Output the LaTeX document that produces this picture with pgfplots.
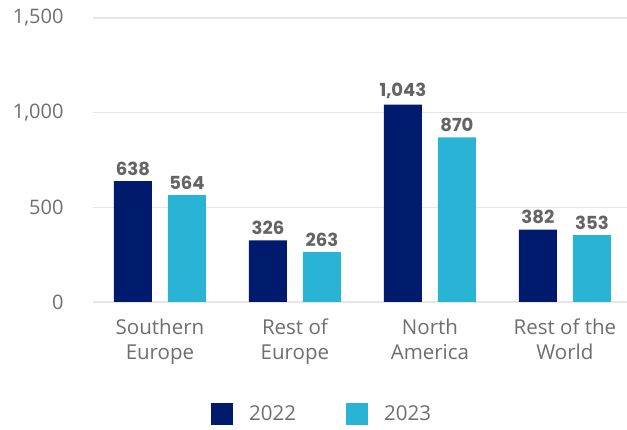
\documentclass[border=0pt]{standalone}
\usepackage{pgfplots}
\pgfplotsset{compat=1.18}
\usepackage{fontspec}
\setmainfont{Open Sans}
\newfontfamily\valfont{Poppins}
\definecolor{navy}{RGB}{0,26,110}
\definecolor{cyan23}{RGB}{41,180,214}
\definecolor{txt}{RGB}{110,110,110}
\definecolor{valtxt}{RGB}{100,100,100}
\definecolor{gridc}{RGB}{230,230,230}

\begin{document}
\begin{tikzpicture}
\useasboundingbox (0,0) rectangle (627pt,430pt);
\begin{axis}[
    at={(93pt,128pt)}, anchor=south west,
    scale only axis,
    width=534pt, height=284pt,
    xmin=-0.496, xmax=3.46,
    ymin=0, ymax=1500,
    ybar, bar width=38pt,
    axis line style={draw=none},
    ymajorgrids=true, xmajorgrids=false,
    major grid style={draw=gridc, line width=1.5pt},
    ytick={0,500,1000,1500},
    xtick={0,1,2,3},
    xticklabels={Southern\\Europe, Rest of\\Europe, North\\America, Rest of the\\World},
    xticklabel style={align=center, text=txt, font=\fontsize{20.5}{25}\selectfont, yshift=-9pt},
    yticklabel style={text=txt, font=\fontsize{20}{24}\selectfont, xshift=-26pt},
    /pgf/number format/assume math mode=true,
    /pgf/number format/1000 sep={,},
    tick style={draw=none},
    nodes near coords,
    nodes near coords style={font=\valfont\bfseries\fontsize{18}{20}\selectfont, text=valtxt, yshift=2pt,
        /pgf/number format/1000 sep={,}, /pgf/number format/assume math mode=true},
    legend columns=2,
    legend style={at={(0.221,-0.394)}, anchor=west, draw=none, inner sep=0pt,
        font=\fontsize{20.5}{24}\selectfont, text=txt,
        /tikz/every odd column/.append style={column sep=14pt},
        /tikz/every even column/.append style={column sep=48pt}},
    legend cell align=left,
    clip=false,
]
\addplot[fill=navy, draw=none, bar shift=-27pt,
    legend image code/.code={\fill[navy] (0pt,-11pt) rectangle (22pt,11pt);}]
    coordinates {(0,638) (1,326) (2,1043) (3,382)};
\addlegendentry{2022}
\addplot[fill=cyan23, draw=none, bar shift=27pt,
    legend image code/.code={\fill[cyan23] (0pt,-11pt) rectangle (22pt,11pt);}]
    coordinates {(0,564) (1,263) (2,870) (3,353)};
\addlegendentry{2023}
\end{axis}
\end{tikzpicture}
\end{document}
